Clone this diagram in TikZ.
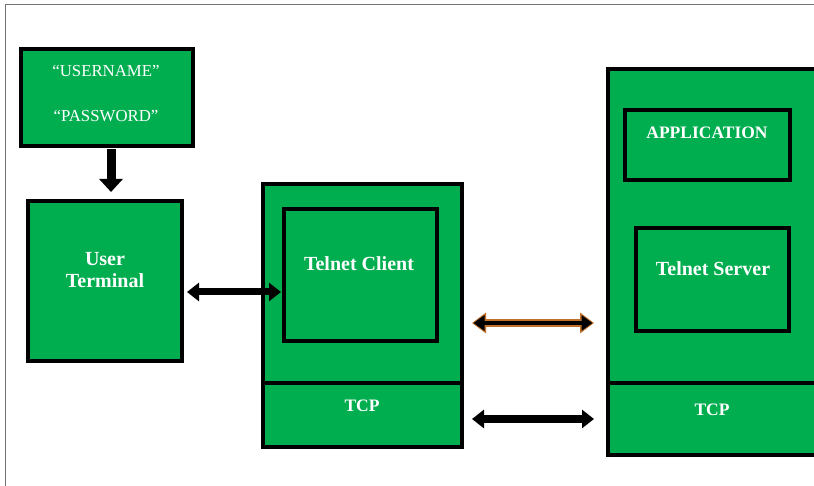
\documentclass[tikz,border=0pt]{standalone}
\usepackage{fontspec}
\setmainfont{Liberation Serif}
\usetikzlibrary{arrows.meta,calc}
\definecolor{boxgreen}{HTML}{00AE50}
\definecolor{wireorange}{HTML}{C0702A}
\tikzset{
  box/.style={draw=black, fill=boxgreen, line width=4pt, rectangle, inner sep=0pt, outer sep=0pt},
  lbl/.style={text=white, font=\bfseries\fontsize{20}{22}\selectfont, inner sep=0pt, align=center},
  capslbl/.style={lbl, font=\bfseries\fontsize{17.5}{20}\selectfont},
  quote/.style={text=white, font=\fontsize{16.8}{19}\selectfont, inner sep=0pt},
  bigarrow/.style={line width=7pt, {Triangle[length=12pt,width=18pt]}-{Triangle[length=12pt,width=18pt]}},
  downarrow/.style={line width=9pt, -{Triangle[length=13pt,width=23pt]}},
  frameline/.style={draw=black!55, line width=1pt}
}
\begin{document}
\begin{tikzpicture}[x=1pt,y=-1pt]
\useasboundingbox (0,0) rectangle (814,486);
\clip (0,0) rectangle (814,486);
\fill[white] (0,0) rectangle (814,486);
\draw[frameline] (5,486) -- (5,5) -- (814,5);

% credentials and user terminal
\node[box, minimum width=172pt, minimum height=97pt] (cred) at (107,97.5) {};
\node[quote] (user) at (106,71) {``USERNAME''};
\node[quote] (pass) at (106,116) {``PASSWORD''};
\node[box, minimum width=154pt, minimum height=160pt] (term) at (105,281) {};
\node[lbl] (termT) at (105,270) {User\\Terminal};

% telnet client side
\node[box, minimum width=199pt, minimum height=263pt] (client) at (362.5,315.5) {};
\draw[line width=4pt] (client.west |- 0,383) -- (client.east |- 0,383);
\node[box, minimum width=153pt, minimum height=132pt] (clientIn) at (360.5,275) {};
\node[lbl] (clientT) at (359,264) {Telnet Client};
\node[capslbl] (tcpC) at (362,406) {TCP};

% telnet server side
\node[box, minimum width=222pt, minimum height=386pt] (server) at (719,262) {};
\draw[line width=4pt] (server.west |- 0,383) -- (server.east |- 0,383);
\node[box, minimum width=165pt, minimum height=70pt] (app) at (707.5,145) {};
\node[capslbl] (appT) at (707,133) {APPLICATION};
\node[box, minimum width=153pt, minimum height=103pt] (tserver) at (712.5,279.5) {};
\node[lbl] (tserverT) at (713,269) {Telnet Server};
\node[capslbl] (tcpS) at (712,410) {TCP};

% connectors
\draw[downarrow, shorten <=3pt, shorten >=9pt] (cred.south -| 111,0) -- (term.north -| 111,0);
\draw[bigarrow, shorten <=5pt, shorten >=3pt] (term.east |- 0,292) -- (clientIn.west |- 0,292);
\coordinate (oy) at (0,323);
\draw[line width=7.5pt, draw=wireorange, {Triangle[length=14pt,width=20pt]}-{Triangle[length=14pt,width=20pt]}, shorten <=10pt, shorten >=14pt] (client.east |- oy) -- (server.west |- oy);
\draw[line width=4pt, {Triangle[length=11pt,width=15pt]}-{Triangle[length=11pt,width=15pt]}, shorten <=11.5pt, shorten >=15.5pt] (client.east |- oy) -- (server.west |- oy);
\coordinate (by) at (0,419);
\draw[bigarrow, line width=8pt, shorten <=10pt, shorten >=14pt] (client.east |- by) -- (server.west |- by);
\end{tikzpicture}
\end{document}
